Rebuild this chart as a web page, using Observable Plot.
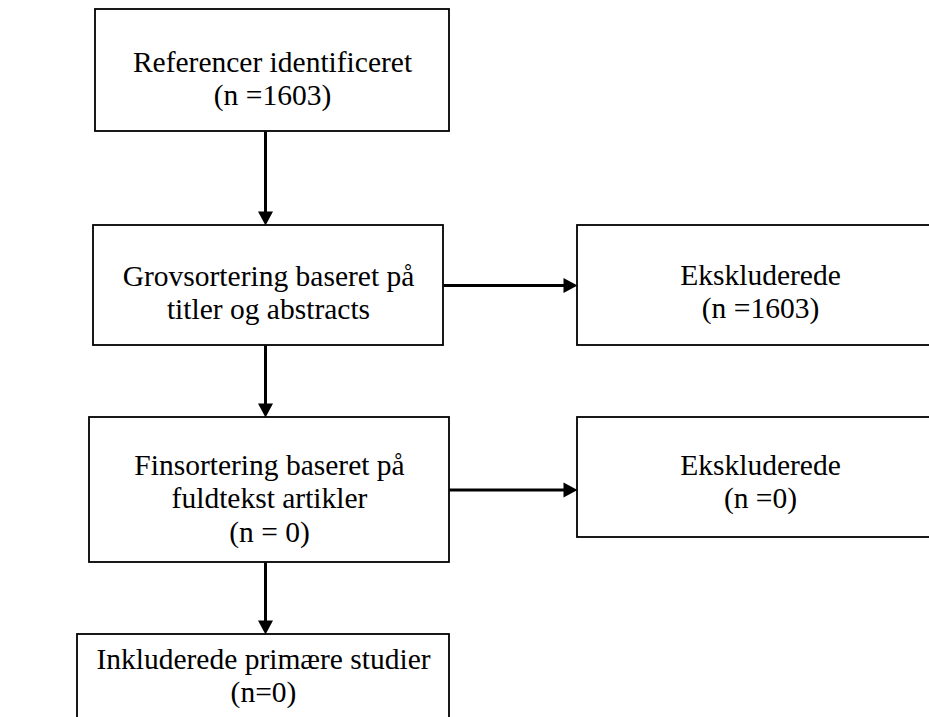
<!DOCTYPE html>
<html>
<head>
<meta charset="utf-8">
<script src="https://cdn.jsdelivr.net/npm/d3@7"></script>
<script src="https://cdn.jsdelivr.net/npm/@observablehq/plot@0.6"></script>
<style>
  html, body { margin: 0; padding: 0; background: #fff; }
  #chart svg { display: block; }
</style>
</head>
<body>
<div id="chart"></div>
<script>
// ---- content ----
const labels = [
  "Referencer identificeret\n(n =1603)",
  "Grovsortering baseret på\ntitler og abstracts",
  "Ekskluderede\n(n =1603)",
  "Finsortering baseret på\nfuldtekst artikler\n(n = 0)",
  "Ekskluderede\n(n =0)",
  "Inkluderede primære studier\n(n=0)"
];
// edges: [from, to, direction]
const edges = [
  [0, 1, "down"],
  [1, 2, "right"],
  [1, 3, "down"],
  [3, 4, "right"],
  [3, 5, "down"]
];

// ---- layout (diagram units = pixels) ----
const boxX1 = [95, 93, 577, 89, 577, 77];
const boxX2 = [449, 443, 943, 449, 943, 449];
const boxY1 = [9, 225, 225, 417, 417, 634];
const boxY2 = [131, 345, 345, 562, 537, 760];
const textY = [77.5, 291, 290, 497, 480, 674];
const spineX = 265;
const headLen = 14, headHalf = 7.5;

const nodes = labels.map((label, i) => ({
  label, x1: boxX1[i], x2: boxX2[i], y1: boxY1[i], y2: boxY2[i],
  cx: (boxX1[i] + boxX2[i]) / 2, ty: textY[i]
}));

const links = edges.map(([a, b, dir]) => {
  const s = nodes[a], t = nodes[b];
  if (dir === "down") {
    return {dir, x1: spineX, y1: s.y2, x2: spineX, y2: t.y1, sx2: spineX, sy2: t.y1 - headLen + 2};
  }
  const y = (s.y1 + s.y2) / 2;
  return {dir, x1: s.x2, y1: y, x2: t.x1, y2: y, sx2: t.x1 - headLen + 2, sy2: y};
});

const headDown = {draw(ctx) { ctx.moveTo(0, 0); ctx.lineTo(-headHalf, -headLen); ctx.lineTo(headHalf, -headLen); ctx.closePath(); }};
const headRight = {draw(ctx) { ctx.moveTo(0, 0); ctx.lineTo(-headLen, -headHalf); ctx.lineTo(-headLen, headHalf); ctx.closePath(); }};

const W = 929, H = 717;
const chart = Plot.plot({
  width: W,
  height: H,
  margin: 0,
  x: {type: "linear", domain: [0, W], range: [0, W], axis: null},
  y: {type: "linear", domain: [0, H], range: [0, H], axis: null},
  style: {background: "white"},
  marks: [
    Plot.rect(nodes, {x1: "x1", x2: "x2", y1: "y1", y2: "y2", fill: "white", stroke: "black", strokeWidth: 1.8}),
    Plot.link(links, {x1: "x1", y1: "y1", x2: "sx2", y2: "sy2", stroke: "black", strokeWidth: 3}),
    Plot.dot(links.filter(d => d.dir === "down"), {x: "x2", y: "y2", symbol: headDown, fill: "black", stroke: "none"}),
    Plot.dot(links.filter(d => d.dir === "right"), {x: "x2", y: "y2", symbol: headRight, fill: "black", stroke: "none"}),
    Plot.text(nodes, {
      x: "cx", y: "ty", text: "label",
      fontFamily: "Liberation Serif, Times New Roman, serif",
      fontSize: 29.5, lineHeight: 1.13, lineAnchor: "middle",
      textAnchor: "middle", fill: "black"
    })
  ]
});
document.getElementById("chart").appendChild(chart);
</script>
</body>
</html>
